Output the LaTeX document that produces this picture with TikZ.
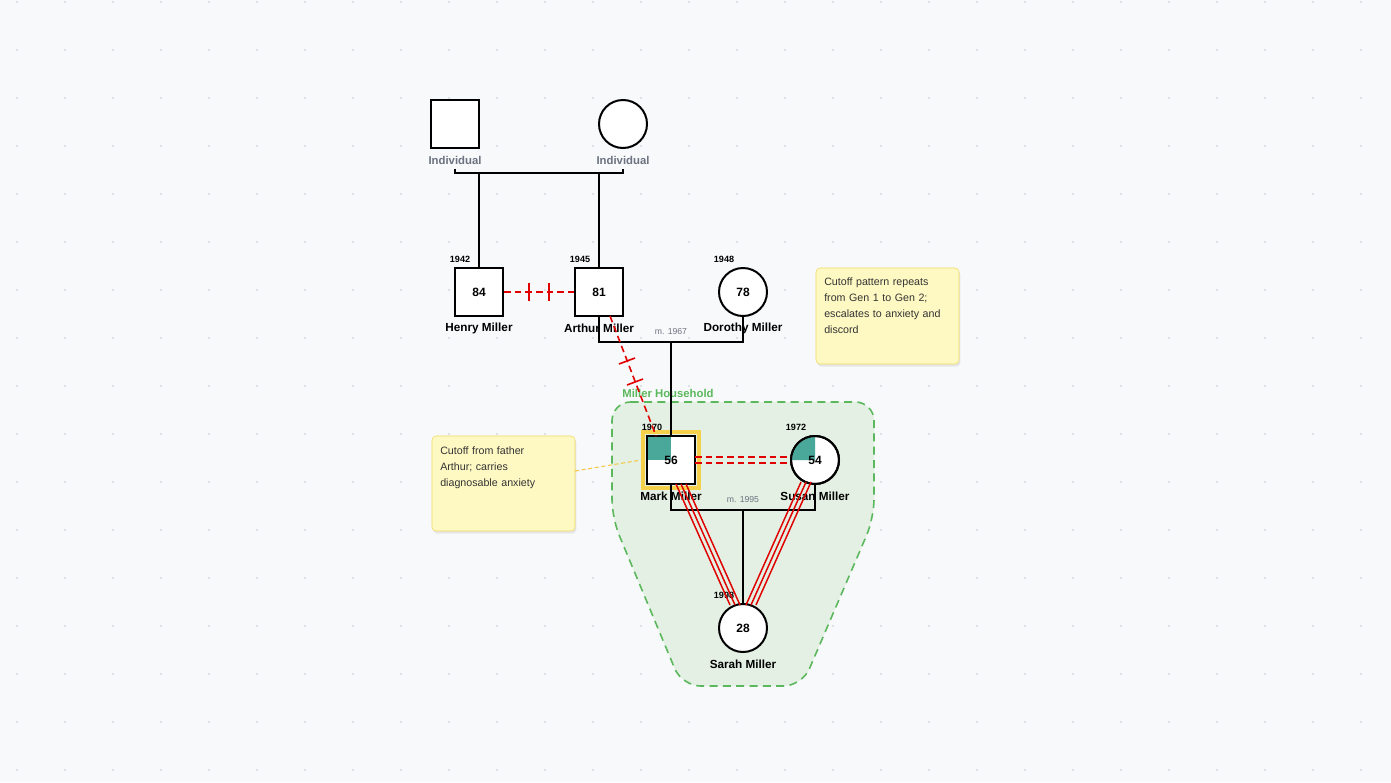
\documentclass[tikz,border=0pt]{standalone}
\usepackage{fontspec}
\setmainfont{Liberation Sans}
\usetikzlibrary{shadows,calc}
\definecolor{bg}{HTML}{F8F9FB}
\definecolor{dotc}{HTML}{D5D8DE}
\definecolor{teal}{HTML}{4AA89B}
\definecolor{hl}{HTML}{F5D04A}
\definecolor{notef}{HTML}{FEF9C3}
\definecolor{noteb}{HTML}{F0D860}
\definecolor{grn}{HTML}{5CB85C}
\definecolor{grnf}{HTML}{E3F0E3}
\definecolor{gtxt}{HTML}{6B7280}
\definecolor{rd}{HTML}{E00000}
\begin{document}
\begin{tikzpicture}[x=0.75pt,y=-0.75pt,
  sq/.style={draw=black,line width=1.5pt,fill=white,minimum size=36pt,inner sep=0pt,font=\bfseries\fontsize{9}{10}\selectfont},
  ci/.style={draw=black,line width=1.5pt,fill=white,circle,minimum size=36pt,inner sep=0pt,font=\bfseries\fontsize{9}{10}\selectfont},
  nm/.style={font=\bfseries\fontsize{8.8}{10}\selectfont},
  yr/.style={font=\bfseries\fontsize{6.8}{8}\selectfont},
  gl/.style={text=gtxt,font=\fontsize{6.5}{8}\selectfont},
  ln/.style={draw=black,line width=1.2pt},
  cut/.style={draw=rd,line width=1.2pt,dash pattern=on 5pt off 3pt},
  notebox/.style={draw=noteb,fill=notef,rounded corners=3pt,drop shadow={opacity=0.15,shadow xshift=1pt,shadow yshift=-2pt}},
  notetxt/.style={anchor=north west,text width=100pt,align=left,inner sep=0pt,font=\fontsize{8}{12}\selectfont,text=black!80},
  tri/.style={draw=rd,line width=1.1pt}]
\fill[bg] (0,0) rectangle (1391,782);
\useasboundingbox (0,0) rectangle (1391,782);
\foreach \i in {0,...,29}{\foreach \j in {0,...,16}{\fill[dotc] ({17+48*\i},{2+48*\j}) circle (0.9pt);}}
% household
\draw[grn,fill=grnf,line width=1.2pt,dash pattern=on 6pt off 4pt,rounded corners=14pt]
 (612,402) -- (874,402) -- (874,518) -- (802,686) -- (682,686) -- (612,518) -- cycle;
\node[text=grn,font=\bfseries\fontsize{8.5}{10}\selectfont] (hh) at (668,393) {Miller Household};
% gen 0
\node[sq] (gf) at (455,124) {};
\node[ci] (gm) at (623,124) {};
\node[gl,font=\bfseries\fontsize{8.5}{10}\selectfont] (gfl) at (455,160) {Individual};
\node[gl,font=\bfseries\fontsize{8.5}{10}\selectfont] (gml) at (623,160) {Individual};
\coordinate (m0a) at (455,173); \coordinate (m0b) at (623,173);
\draw[ln] (gfl.south) -- (m0a) -- (m0b) -- (gml.south);
% gen 1
\node[sq] (henry) at (479,292) {84};
\node[sq] (arthur) at (599,292) {81};
\node[ci] (dorothy) at (743,292) {78};
\node[yr] at (460,259) {1942};
\node[yr] at (580,259) {1945};
\node[yr] at (724,259) {1948};
\node[nm] (hn) at (479,328) {Henry Miller};
\node[nm] (an) at (599,328) {Arthur Miller};
\node[nm] (dn) at (743,328) {Dorothy Miller};
\draw[ln] (henry.north) -- (henry.north |- m0a);
\draw[ln] (arthur.north) -- (arthur.north |- m0a);
% Henry-Arthur cutoff
\draw[cut] (henry.east) -- (arthur.west);
\draw[rd,line width=1.2pt] (529,283) -- (529,301) (549,283) -- (549,301);
% marriage 1
\coordinate (m1a) at (599,342); \coordinate (m1b) at (743,342); \coordinate (m1c) at (671,342);
\draw[ln] (arthur.south) -- (m1a) -- (m1b) -- (dorothy.south);
\node[gl] at (671,332) {m. 1967};
% gen 2
\node[draw=hl,line width=3pt,minimum size=42pt,inner sep=0pt] (hlm) at (671,460) {};
\node[sq] (mark) at (671,460) {};
\fill[teal] (647.8,436.8) rectangle (671,460);
\node[font=\bfseries\fontsize{9}{10}\selectfont] at (671,460) {56};
\draw[black,line width=1.5pt] (647,436) rectangle (695,484);
\node[ci] (susan) at (815,460) {};
\fill[teal] (815,460) -- (815,437) arc (270:180:23) -- cycle;
\draw[black,line width=1.5pt] (815,460) circle (24);
\node[font=\bfseries\fontsize{9}{10}\selectfont] at (815,460) {54};
\node[yr] at (652,427) {1970};
\node[yr] at (796,427) {1972};
\node[nm] (mn) at (671,496) {Mark Miller};
\node[nm] (sn) at (815,496) {Susan Miller};
\draw[ln] (m1c) -- (mark.north);
% Arthur-Mark cutoff
\draw[cut] (610,316) -- (656,436);
\draw[rd,line width=1.2pt] ($(627,361)+(-8,3)$) -- ($(627,361)+(8,-3)$)
  ($(635,382)+(-8,3)$) -- ($(635,382)+(8,-3)$);
% Mark-Susan conflict
\draw[cut,line width=1pt] (695,457) -- (791,457);
\draw[cut,line width=1pt] (695,463) -- (791,463);
% marriage 2
\coordinate (m2a) at (671,510); \coordinate (m2b) at (815,510); \coordinate (m2c) at (743,510);
\draw[ln] (mark.south) -- (m2a) -- (m2b) -- (susan.south);
\node[gl] at (743,500) {m. 1995};
\node[ci] (sarah) at (743,628) {28};
\node[yr] at (724,595) {1998};
\node[nm] (sa) at (743,664) {Sarah Miller};
\draw[ln] (m2c) -- (sarah.north);
% fused lines
\foreach \d in {-5,0,5}{
 \draw[tri] ($(681,484)+(\d,0)$) -- ($(735,605)+(\d,0)$);
 \draw[tri] ($(806,482)+(\d,0)$) -- ($(751,605)+(\d,0)$);}
% notes
\path[notebox] (816,268) rectangle (959,364);
\node[notetxt] (n1) at (824,278) {Cutoff pattern repeats\\ from Gen 1 to Gen 2;\\ escalates to anxiety and\\ discord};
\path[notebox] (432,436) rectangle (575,531);
\node[notetxt] (n2) at (440,446) {Cutoff from father\\ Arthur; carries\\ diagnosable anxiety};
\coordinate (n2e) at (575,471);
\draw[hl!90!orange,line width=0.8pt,dash pattern=on 3pt off 2pt] (n2e) -- (hlm.west);
\end{tikzpicture}
\end{document}
